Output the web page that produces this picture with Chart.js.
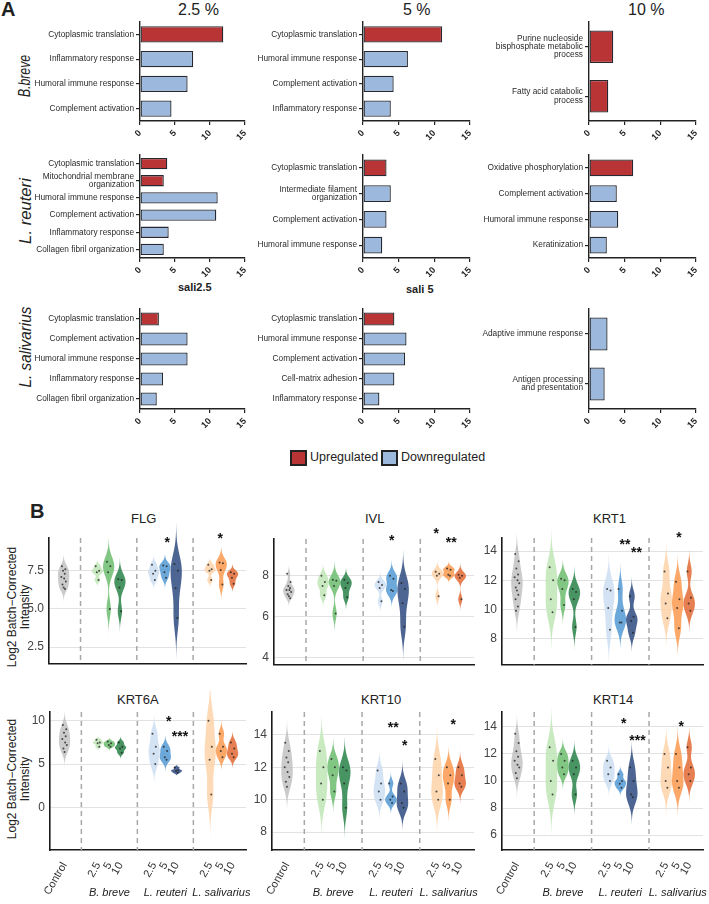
<!DOCTYPE html>
<html>
<head>
<meta charset="utf-8">
<script src="https://cdn.jsdelivr.net/npm/chart.js@4.4.0/dist/chart.umd.min.js"></script>
<style>
  body { margin: 0; background: #fff; width: 709px; height: 904px; position: relative; overflow: hidden;
         font-family: "Liberation Sans", Arial, sans-serif; }
  canvas { position: absolute; }
  .t { position: absolute; white-space: nowrap; color: #222; }
  .rot { position: absolute; white-space: nowrap; color: #222; font-style: italic; transform-origin: center center; }
  .box { position: absolute; width: 13px; height: 12px; border: 2px solid #222; }
</style>
</head>
<body>
<div class="t" style="left:1px;top:-2px;font-size:20px;font-weight:bold;">A</div>
<div class="t" style="left:178px;top:1px;font-size:16px;">2.5 %</div>
<div class="t" style="left:403px;top:1px;font-size:16px;">5 %</div>
<div class="t" style="left:628px;top:1px;font-size:16px;">10 %</div>
<div class="t" style="left:178px;top:281px;font-size:11px;font-weight:bold;">sali2.5</div>
<div class="t" style="left:406px;top:283px;font-size:11px;font-weight:bold;">sali 5</div>

<div class="rot" style="left:-10px;top:66px;width:70px;text-align:center;font-size:17px;transform:rotate(-90deg) scaleX(0.72);">B.breve</div>
<div class="rot" style="left:-20px;top:201px;width:92px;text-align:center;font-size:17px;transform:rotate(-90deg) scaleX(0.98);">L. reuteri</div>
<div class="rot" style="left:-34px;top:337px;width:120px;text-align:center;font-size:17px;transform:rotate(-90deg) scaleX(0.9);">L. salivarius</div>

<div class="box" style="left:290px;top:450px;background:#b93434;"></div>
<div class="t" style="left:310px;top:450px;font-size:12.5px;">Upregulated</div>
<div class="box" style="left:381px;top:450px;background:#9cb8dc;"></div>
<div class="t" style="left:401px;top:450px;font-size:12.5px;">Downregulated</div>

<div class="t" style="left:30px;top:500px;font-size:20px;font-weight:bold;">B</div>
<div class="t" style="left:131px;top:511px;font-size:13px;">FLG</div>
<div class="t" style="left:365px;top:511px;font-size:13px;">IVL</div>
<div class="t" style="left:593px;top:511px;font-size:13px;">KRT1</div>
<div class="t" style="left:117px;top:692px;font-size:13px;">KRT6A</div>
<div class="t" style="left:361px;top:692px;font-size:13px;">KRT10</div>
<div class="t" style="left:593px;top:692px;font-size:13px;">KRT14</div>

<div class="t" style="left:-46px;top:594px;width:130px;font-size:12px;line-height:13px;text-align:center;transform:rotate(-90deg);">Log2 Batch−Corrected<br>Intensity</div>
<div class="t" style="left:-46px;top:766px;width:130px;font-size:12px;line-height:13px;text-align:center;transform:rotate(-90deg);">Log2 Batch−Corrected<br>Intensity</div>

<script>
// ---------- Panel A: enriched GO terms (-log10 p) ----------
const bbreve25Terms = ['Cytoplasmic translation', 'Inflammatory response', 'Humoral immune response', 'Complement activation'];
const bbreve25Values = [11.9, 7.6, 6.8, 4.5];
const bbreve25Dirs = ['up', 'down', 'down', 'down'];

const bbreve5Terms = ['Cytoplasmic translation', 'Humoral immune response', 'Complement activation', 'Inflammatory response'];
const bbreve5Values = [11.1, 6.3, 4.3, 3.9];
const bbreve5Dirs = ['up', 'down', 'down', 'down'];

const bbreve10Terms = [['Purine nucleoside', 'bisphosphate metabolic', 'process'], ['Fatty acid catabolic', 'process']];
const bbreve10Values = [3.4, 2.7];
const bbreve10Dirs = ['up', 'up'];

const reuteri25Terms = ['Cytoplasmic translation', ['Mitochondrial membrane', 'organization'], 'Humoral immune response',
  'Complement activation', 'Inflammatory response', 'Collagen fibril organization'];
const reuteri25Values = [3.9, 3.4, 11.1, 10.9, 4.1, 3.4];
const reuteri25Dirs = ['up', 'up', 'down', 'down', 'down', 'down'];

const reuteri5Terms = ['Cytoplasmic translation', ['Intermediate filament', 'organization'], 'Complement activation', 'Humoral immune response'];
const reuteri5Values = [3.3, 3.9, 3.3, 2.7];
const reuteri5Dirs = ['up', 'down', 'down', 'down'];

const reuteri10Terms = ['Oxidative phosphorylation', 'Complement activation', 'Humoral immune response', 'Keratinization'];
const reuteri10Values = [6.2, 3.9, 4.1, 2.5];
const reuteri10Dirs = ['up', 'down', 'down', 'down'];

const sali25Terms = ['Cytoplasmic translation', 'Complement activation', 'Humoral immune response', 'Inflammatory response', 'Collagen fibril organization'];
const sali25Values = [2.7, 6.8, 6.8, 3.3, 2.4];
const sali25Dirs = ['up', 'down', 'down', 'down', 'down'];

const sali5Terms = ['Cytoplasmic translation', 'Humoral immune response', 'Complement activation', 'Cell-matrix adhesion', 'Inflammatory response'];
const sali5Values = [4.4, 6.1, 5.9, 4.4, 2.3];
const sali5Dirs = ['up', 'down', 'down', 'down', 'down'];

const sali10Terms = ['Adaptive immune response', ['Antigen processing', 'and presentation']];
const sali10Values = [2.6, 2.2];
const sali10Dirs = ['down', 'down'];

// ---------- Panel B: per-sample log2 intensities ----------
// group order: Control, B.breve 2.5/5/10, L.reuteri 2.5/5/10, L.salivarius 2.5/5/10
const groupX = [0, 3, 4, 5, 8, 9, 10, 13, 14, 15];
const tickLabels = ['Control', '2.5', '5', '10', '2.5', '5', '10', '2.5', '5', '10'];
const strainNames = ['B. breve', 'L. reuteri', 'L. salivarius'];
const strainX = [4, 9, 14];
const separatorX = [1.5, 6.5, 11.5];

const flgValues = [
  [7.8, 7.6, 7.5, 7.3, 7.1, 7.0, 6.8, 6.6, 6.4, 6.3],
  [7.8, 7.5, 7.4, 6.9], [8.1, 7.8, 7.4, 5.0], [6.95, 6.9, 6.4, 4.85],
  [7.9, 7.5, 7.3, 6.9], [7.85, 7.8, 7.4, 7.05], [7.95, 7.5, 6.35, 4.4],
  [7.9, 7.6, 7.5, 6.9], [8.05, 8.0, 7.55, 6.6], [7.4, 7.3, 7.05, 6.65]
];
const flgStars = [['*', 9.2, 9.5], ['*', 13.9, 9.75]];

const ivlValues = [
  [8.1, 7.7, 7.5, 7.4, 7.3, 7.3, 7.2, 7.1, 7.0, 6.9],
  [8.0, 7.7, 7.5, 7.05], [7.8, 7.75, 7.5, 6.15], [7.8, 7.65, 7.4, 6.95],
  [7.7, 7.55, 7.4, 6.75], [8.0, 7.85, 7.3, 7.25], [7.65, 7.35, 6.65, 5.5],
  [8.2, 8.1, 8.0, 7.0], [8.35, 8.3, 8.05, 8.0], [8.05, 8.0, 7.9, 6.85]
];
const ivlStars = [['*', 9.0, 9.85], ['*', 12.9, 10.2], ['**', 14.2, 9.75]];

const krt1Values = [
  [13.8, 13.3, 12.8, 12.4, 12.2, 12.0, 11.8, 11.5, 11.3, 11.0, 10.7, 10.2, 9.9],
  [12.9, 12.0, 10.7, 9.8], [12.1, 12.0, 11.4, 10.3], [11.4, 11.2, 10.7, 8.8],
  [11.4, 11.3, 10.1, 8.6], [11.4, 9.9, 9.1, 9.1], [10.9, 9.5, 9.2, 8.4],
  [12.6, 11.1, 10.4, 9.4], [11.9, 10.7, 10.1, 8.7], [12.6, 10.8, 10.4, 9.9]
];
const krt1Stars = [['**', 9.4, 14.6], ['**', 10.4, 14.1], ['*', 14.1, 15.1]];

const krt6aValues = [
  [9.5, 9.0, 8.6, 8.2, 7.9, 7.5, 7.2, 6.8, 6.4],
  [7.8, 7.5, 7.4, 7.0], [7.6, 7.4, 7.2, 7.0], [7.5, 7.0, 6.8, 6.3],
  [8.5, 7.0, 6.2, 5.0], [7.0, 6.5, 5.8, 5.5], [4.6, 4.3, 4.2, 4.0],
  [10.0, 7.0, 5.5, 1.5], [8.5, 7.0, 6.5, 5.8], [7.5, 6.8, 6.2, 5.8]
];
const krt6aStars = [['*', 9.3, 10.2], ['***', 10.3, 8.5]];

const krt10Values = [
  [13.5, 13.0, 12.6, 12.3, 12.0, 11.7, 11.4, 11.1, 10.8],
  [13.0, 12.0, 11.0, 10.0], [12.5, 12.0, 11.5, 10.5], [12.0, 11.8, 11.0, 9.5],
  [11.8, 11.0, 10.5, 10.0], [11.0, 10.2, 10.0, 9.8], [11.0, 10.5, 9.8, 9.5],
  [12.5, 11.5, 10.5, 10.0], [12.0, 11.5, 11.0, 10.0], [12.0, 11.5, 11.0, 10.8]
];
const krt10Stars = [['**', 9.2, 14.6], ['*', 10.2, 13.5], ['*', 14.4, 14.8]];

const krt14Values = [
  [13.5, 12.8, 12.2, 11.8, 11.5, 11.2, 11.0, 10.6, 10.2],
  [12.5, 11.5, 10.0, 9.0], [12.0, 11.5, 11.0, 10.5], [11.5, 11.0, 10.5, 9.0],
  [11.5, 11.0, 10.5, 10.0], [10.5, 10.0, 9.8, 9.5], [11.0, 10.0, 9.0, 8.8],
  [12.0, 11.0, 10.0, 9.5], [12.0, 11.0, 10.0, 9.5], [12.5, 11.0, 10.5, 10.0]
];
const krt14Stars = [['*', 9.3, 14.4], ['***', 10.5, 13.2], ['*', 14.3, 14.2]];

// ---------- helpers ----------
const FONT = '"Liberation Sans", Arial, sans-serif';
const RED = '#b93434';
const BLUE = '#9cb8dc';
const violinColors = [
  'rgba(185,185,185,0.75)',
  'rgba(192,230,182,0.85)', 'rgba(116,192,118,0.9)', 'rgba(52,138,82,0.9)',
  'rgba(204,222,242,0.85)', 'rgba(92,158,214,0.9)', 'rgba(52,80,132,0.88)',
  'rgba(253,210,168,0.85)', 'rgba(251,158,88,0.9)', 'rgba(226,110,58,0.88)'
];
const jitter = [-0.15, 0.15, -0.05, 0.1, -0.2, 0.05, 0.2, -0.1, 0, 0.12, -0.12, 0.08, -0.08];
const HALF = 0.5;

function addCanvas(x, y, w, h) {
  const c = document.createElement('canvas');
  c.width = w; c.height = h;
  c.style.left = x + 'px'; c.style.top = y + 'px';
  c.style.width = w + 'px'; c.style.height = h + 'px';
  document.body.appendChild(c);
  return c;
}

function enrichmentChart(box, area, terms, values, dirs) {
  const [bx, by, bw, bh] = box;
  const [ax0, ay0, ax1, ay1] = area;
  return new Chart(addCanvas(bx, by, bw, bh), {
    type: 'bar',
    data: {
      labels: terms,
      datasets: [{
        data: values,
        backgroundColor: dirs.map(d => d === 'up' ? RED : BLUE),
        borderColor: '#262a30', borderWidth: 1.3, borderSkipped: false,
        barPercentage: 0.66, categoryPercentage: 1
      }]
    },
    options: {
      indexAxis: 'y', responsive: false, animation: false, devicePixelRatio: 1,
      layout: { padding: { left: 0, top: ay0 - by, right: bx + bw - ax1, bottom: 0 } },
      plugins: { legend: { display: false }, tooltip: { enabled: false } },
      scales: {
        x: {
          min: 0, max: 15,
          ticks: { stepSize: 5, minRotation: 45, maxRotation: 45, color: '#222', padding: 3,
                   font: { family: FONT, size: 9, weight: 'bold' } },
          grid: { drawOnChartArea: false, tickLength: 4, color: '#222', lineWidth: 1.2 },
          border: { color: '#222', width: 1.4 },
          afterFit: s => { s.height = by + bh - ay1; }
        },
        y: {
          ticks: { autoSkip: false, color: '#2a2a2a', padding: 2,
                   font: { family: FONT, size: 8.3, lineHeight: 1.0 } },
          grid: { drawOnChartArea: false, offset: false, tickLength: 4, color: '#222', lineWidth: 1.2 },
          border: { color: '#222', width: 1.4 },
          afterFit: s => { s.width = ax0 - bx; }
        }
      }
    }
  });
}

// gaussian kernel density, bandwidth as R's bw.nrd0, tails cut at 3 bandwidths
function quantile(sorted, p) {
  const h = (sorted.length - 1) * p, lo = Math.floor(h);
  const hi = Math.min(lo + 1, sorted.length - 1);
  return sorted[lo] + (h - lo) * (sorted[hi] - sorted[lo]);
}
function kde(vals) {
  const n = vals.length;
  const s = [...vals].sort((a, b) => a - b);
  const m = vals.reduce((a, b) => a + b, 0) / n;
  const sd = Math.sqrt(vals.reduce((a, v) => a + (v - m) ** 2, 0) / (n - 1));
  let lo = Math.min(sd, (quantile(s, 0.75) - quantile(s, 0.25)) / 1.34);
  if (!(lo > 0)) lo = sd || 1;
  const bw = 0.9 * lo * Math.pow(n, -0.2);
  const y0 = s[0] - 3 * bw, y1 = s[n - 1] + 3 * bw;
  const ys = [], ds = [];
  for (let i = 0; i <= 120; i++) {
    const y = y0 + (y1 - y0) * i / 120;
    ys.push(y);
    ds.push(vals.reduce((a, v) => a + Math.exp(-0.5 * ((y - v) / bw) ** 2), 0));
  }
  const mx = Math.max(...ds);
  return { ys, ds: ds.map(d => d / mx) };
}

function violinChart(box, area, groups, yMin, yMax, yStep, decimals, stars, showX) {
  const [bx, by, bw, bh] = box;
  const [ax0, ay0, ax1, ay1] = area;
  const dots = [];
  groups.forEach((vals, g) => vals.forEach((v, i) => dots.push({ x: groupX[g] + jitter[i % jitter.length], y: v })));
  const violinPlugin = {
    id: 'violins',
    beforeDatasetsDraw(chart) {
      const { ctx, chartArea } = chart;
      const x = chart.scales.x, y = chart.scales.y;
      ctx.save();
      ctx.strokeStyle = '#a8a8a8'; ctx.lineWidth = 1.5; ctx.setLineDash([5, 4]);
      separatorX.forEach(sx => {
        const px = x.getPixelForValue(sx);
        ctx.beginPath(); ctx.moveTo(px, chartArea.top); ctx.lineTo(px, chartArea.bottom); ctx.stroke();
      });
      ctx.setLineDash([]);
      groups.forEach((vals, g) => {
        const k = kde(vals);
        ctx.beginPath();
        k.ys.forEach((yy, i) => {
          const px = x.getPixelForValue(groupX[g] - HALF * k.ds[i]), py = y.getPixelForValue(yy);
          if (i === 0) ctx.moveTo(px, py); else ctx.lineTo(px, py);
        });
        for (let i = k.ys.length - 1; i >= 0; i--) {
          ctx.lineTo(x.getPixelForValue(groupX[g] + HALF * k.ds[i]), y.getPixelForValue(k.ys[i]));
        }
        ctx.closePath();
        ctx.fillStyle = violinColors[g];
        ctx.fill();
      });
      ctx.restore();
    },
    afterDraw(chart) {
      const { ctx, chartArea } = chart;
      const x = chart.scales.x, y = chart.scales.y;
      ctx.save();
      ctx.fillStyle = '#111';
      ctx.font = 'bold 14px ' + FONT;
      ctx.textAlign = 'center'; ctx.textBaseline = 'middle';
      stars.forEach(([t, sx, sy]) => ctx.fillText(t, x.getPixelForValue(sx), y.getPixelForValue(sy) + 3));
      if (showX) {
        ctx.font = 'italic 11px ' + FONT;
        ctx.fillStyle = '#222';
        strainNames.forEach((nm, i) => ctx.fillText(nm, x.getPixelForValue(strainX[i]), chartArea.bottom + 43));
      }
      ctx.restore();
    }
  };
  return new Chart(addCanvas(bx, by, bw, bh), {
    type: 'scatter',
    data: {
      datasets: [{
        data: dots, pointRadius: 1, pointBorderWidth: 0,
        pointBackgroundColor: 'rgba(35,35,35,0.8)'
      }]
    },
    options: {
      responsive: false, animation: false, devicePixelRatio: 1,
      layout: { padding: { left: 0, top: ay0 - by, right: bx + bw - ax1, bottom: 0 } },
      plugins: { legend: { display: false }, tooltip: { enabled: false } },
      scales: {
        x: {
          type: 'linear', min: -1.3, max: 16.2,
          afterBuildTicks: s => { s.ticks = groupX.map(v => ({ value: v })); },
          ticks: {
            display: showX, autoSkip: false, minRotation: 60, maxRotation: 60, padding: 2,
            color: '#333', font: { family: FONT, size: 11 },
            callback: (v, i) => tickLabels[i]
          },
          grid: { display: false },
          border: { display: true, color: '#1a1a1a', width: 1.6 },
          afterFit: s => { s.height = by + bh - ay1; }
        },
        y: {
          min: yMin, max: yMax,
          ticks: { stepSize: yStep, includeBounds: false, color: '#444', padding: 5,
                   font: { family: FONT, size: 12 }, callback: v => v.toFixed(decimals) },
          grid: { color: '#e2e2e2', lineWidth: 1, drawTicks: false },
          border: { color: '#1a1a1a', width: 1.6 },
          afterFit: s => { s.width = ax0 - bx; }
        }
      }
    },
    plugins: [violinPlugin]
  });
}

// ---------- Panel A ----------
const colBox = [[0, 262], [240, 245], [455, 254]];
const colArea = [[140, 245], [363, 470], [589, 696]];
const rowBox = [[-10, 155], [120, 165], [275, 160]];
const rowArea = [[22, 121], [155, 258], [309, 409]];
const panelA = [
  [[bbreve25Terms, bbreve25Values, bbreve25Dirs], [bbreve5Terms, bbreve5Values, bbreve5Dirs], [bbreve10Terms, bbreve10Values, bbreve10Dirs]],
  [[reuteri25Terms, reuteri25Values, reuteri25Dirs], [reuteri5Terms, reuteri5Values, reuteri5Dirs], [reuteri10Terms, reuteri10Values, reuteri10Dirs]],
  [[sali25Terms, sali25Values, sali25Dirs], [sali5Terms, sali5Values, sali5Dirs], [sali10Terms, sali10Values, sali10Dirs]]
];
panelA.forEach((row, r) => row.forEach((d, c) => {
  enrichmentChart([colBox[c][0], rowBox[r][0], colBox[c][1], rowBox[r][1]],
    [colArea[c][0], rowArea[r][0], colArea[c][1], rowArea[r][1]], d[0], d[1], d[2]);
}));

// ---------- Panel B ----------
violinChart([20, 515, 235, 161], [49, 538, 246, 674], flgValues, 1.4, 9.65, 2.5, 1, flgStars, false);
violinChart([245, 515, 240, 162], [274, 539, 474, 675], ivlValues, 3.64, 9.8, 2, 0, ivlStars, false);
violinChart([473, 515, 236, 162], [502, 538, 703, 675], krt1Values, 6.2, 14.9, 2, 0, krt1Stars, false);

violinChart([20, 690, 235, 214], [50, 712, 246, 850], krt6aValues, -4.9, 11, 5, 0, krt6aStars, true);
violinChart([245, 690, 240, 214], [272, 712, 474, 850], krt10Values, 6.9, 15.4, 2, 0, krt10Stars, true);
violinChart([473, 690, 236, 214], [502, 712, 703, 850], krt14Values, 4.9, 15.1, 2, 0, krt14Stars, true);
</script>
</body>
</html>
